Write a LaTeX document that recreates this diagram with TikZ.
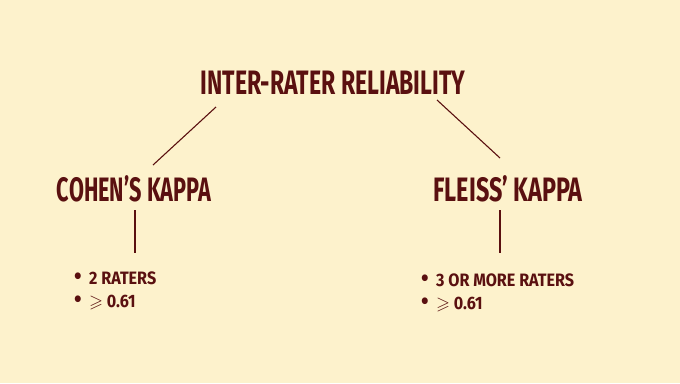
\documentclass[tikz,border=0pt]{standalone}
\usepackage{amssymb}
\usepackage{fontspec}
\newfontfamily\cond{Fira Sans}[FakeStretch=0.68]
\newfontfamily\condb{Fira Sans}[FakeStretch=0.64]
\newfontfamily\condf{Fira Sans}[FakeStretch=0.69]
\newfontfamily\condi{Fira Sans}[FakeStretch=0.9]
\definecolor{bg}{HTML}{FDF2CC}
\definecolor{ink}{HTML}{5A1010}
\newcommand{\bul}{\makebox[15pt][l]{\scalebox{1.35}{\textbullet}}}
\begin{document}
\begin{tikzpicture}[x=1bp,y=-1bp,
  title/.style={text=ink,font=\cond\bfseries\fontsize{34}{34}\selectfont,inner sep=0},
  head/.style={text=ink,font=\condb\bfseries\fontsize{34}{34}\selectfont,inner sep=0},
  headf/.style={text=ink,font=\condf\bfseries\fontsize{34}{34}\selectfont,inner sep=0},
  item/.style={text=ink,font=\condi\bfseries\fontsize{18}{20}\selectfont,inner sep=0,anchor=west,align=left},
  link/.style={draw=ink,line width=1.1pt}]
\fill[bg] (0,0) rectangle (680,383);
\useasboundingbox (0,0) rectangle (680,383);
\node[title] (t) at (333,83) {INTER-RATER RELIABILITY};
\node[head] (c) at (134,189) {COHEN’S KAPPA};
\node[headf] (f) at (508,189) {FLEISS’ KAPPA};
\coordinate (l1) at (216,107); \coordinate (l2) at (153,165);
\coordinate (r1) at (437,100); \coordinate (r2) at (500,158);
\draw[link] (l1) -- (l2);
\draw[link] (r1) -- (r2);
\coordinate (cv1) at (135,210); \coordinate (cv2) at (135,253);
\coordinate (fv1) at (500,210); \coordinate (fv2) at (500,253);
\draw[link] (cv1) -- (cv2);
\draw[link] (fv1) -- (fv2);
\node[item] (ci1) at (74,278) {\bul 2 RATERS};
\node[item] (ci2) at (74,303) {\bul $\geqslant$ 0.61};
\node[item] (fi1) at (421,280) {\bul 3 OR MORE RATERS};
\node[item] (fi2) at (421,305) {\bul $\geqslant$ 0.61};
\end{tikzpicture}
\end{document}
